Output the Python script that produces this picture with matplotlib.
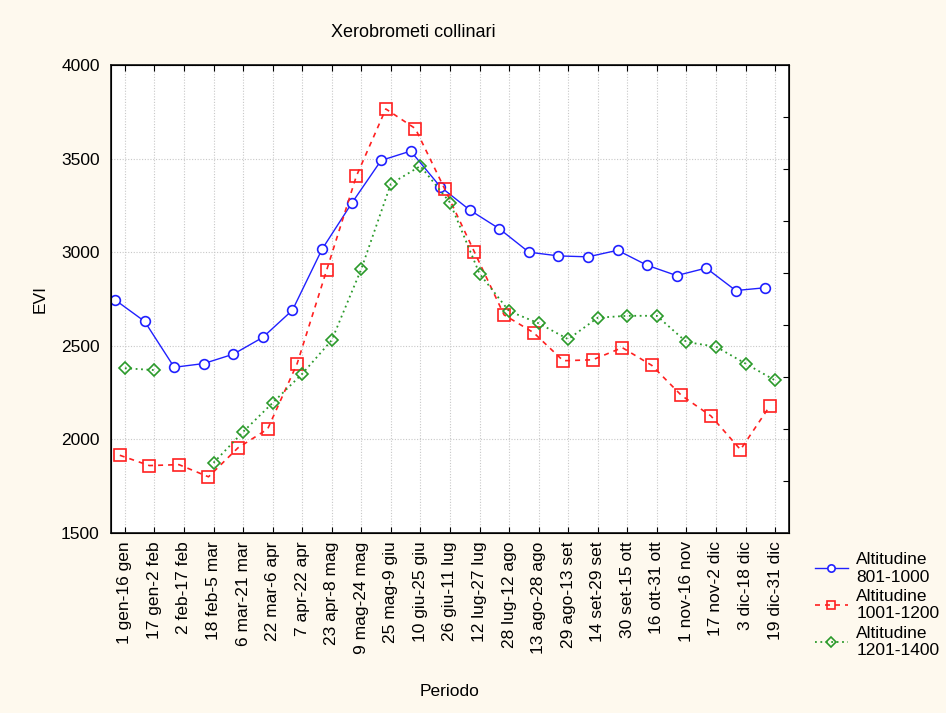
import numpy as np
import matplotlib.pyplot as plt

# ==== dati ====
periodi = ["1 gen-16 gen", "17 gen-2 feb", "2 feb-17 feb", "18 feb-5 mar",
           "6 mar-21 mar", "22 mar-6 apr", "7 apr-22 apr", "23 apr-8 mag",
           "9 mag-24 mag", "25 mag-9 giu", "10 giu-25 giu", "26 giu-11 lug",
           "12 lug-27 lug", "28 lug-12 ago", "13 ago-28 ago", "29 ago-13 set",
           "14 set-29 set", "30 set-15 ott", "16 ott-31 ott", "1 nov-16 nov",
           "17 nov-2 dic", "3 dic-18 dic", "19 dic-31 dic"]

alt_801_1000 = [2745, 2630, 2385, 2405, 2455, 2545, 2690, 3015, 3260, 3490, 3540,
                3350, 3225, 3125, 3000, 2980, 2975, 3010, 2930, 2875, 2915, 2795, 2810]
alt_1001_1200 = [1915, 1860, 1865, 1800, 1955, 2055, 2405, 2905, 3405, 3765, 3660,
                 3335, 3000, 2665, 2570, 2420, 2425, 2490, 2395, 2235, 2125, 1945, 2180]
alt_1201_1400 = [2380, 2370, np.nan, 1875, 2040, 2195, 2350, 2530, 2910, 3365, 3460,
                 3265, 2885, 2685, 2620, 2535, 2650, 2660, 2660, 2520, 2495, 2405, 2315]

x = np.arange(len(periodi))

# ==== grafico ====
plt.rcParams['font.family'] = ['Liberation Sans', 'DejaVu Sans']
fig = plt.figure(figsize=(9.46, 7.13), dpi=100, facecolor='#fef9ee')
ax = fig.add_axes([0.1173, 0.2525, 0.7167, 0.6564])

ax.plot(x - 0.33, alt_801_1000, color='#2020ff', lw=1.0, ls='-', marker='o',
        ms=7, mfc='white', mec='#2020ff', mew=1.2, label="Altitudine\n801-1000")
ax.plot(x - 0.17, alt_1001_1200, color='#ff2020', lw=1.2, ls=(0, (3, 3)), marker='s',
        ms=8, mfc='none', mec='#ff2020', mew=1.2, label="Altitudine\n1001-1200")
ax.plot(x, alt_1201_1400, color='#2a9a2a', lw=1.3, ls=(0, (1, 2)), marker='D',
        ms=6.5, mfc='none', mec='#2a9a2a', mew=1.2, label="Altitudine\n1201-1400")

ax.set_xlim(-0.47, len(periodi) - 0.53)
ax.set_ylim(1500, 4000)
ax.set_xticks(x)
ax.set_xticklabels(periodi, rotation=90, fontsize=12.5)
ax.set_yticks([1500, 2000, 2500, 3000, 3500, 4000])
ax.tick_params(axis='y', labelsize=12.5, length=0, pad=8)
ax.tick_params(axis='x', direction='in', length=4, top=True, pad=6)
ax.grid(True, ls=(0, (1, 1.5)), color='#c8c8c8', lw=0.8)
for s in ax.spines.values():
    s.set_color('#222222')
    s.set_linewidth(1.3)

# tacche a destra
ax2 = ax.twinx()
ax2.set_ylim(1500, 4000)
ax2.set_yticks(np.linspace(1500, 4000, 10)[1:-1])
ax2.tick_params(axis='y', direction='in', length=4, labelright=False)

ax.set_xlabel("Periodo", fontsize=12.5, labelpad=22)
ax.set_ylabel("EVI", fontsize=12.5, labelpad=10)
fig.text(0.437, 0.955, "Xerobrometi collinari", ha='center', va='center',
         fontsize=13, family=['Liberation Sans Narrow', 'Liberation Sans'])

ax.legend(loc='upper left', bbox_to_anchor=(1.02, -0.015), frameon=False,
          fontsize=12.5, handlelength=1.9, labelspacing=0.25, handletextpad=0.5,
          borderaxespad=0.3, markerscale=0.75)

plt.savefig("out.png", dpi=100, facecolor=fig.get_facecolor())
